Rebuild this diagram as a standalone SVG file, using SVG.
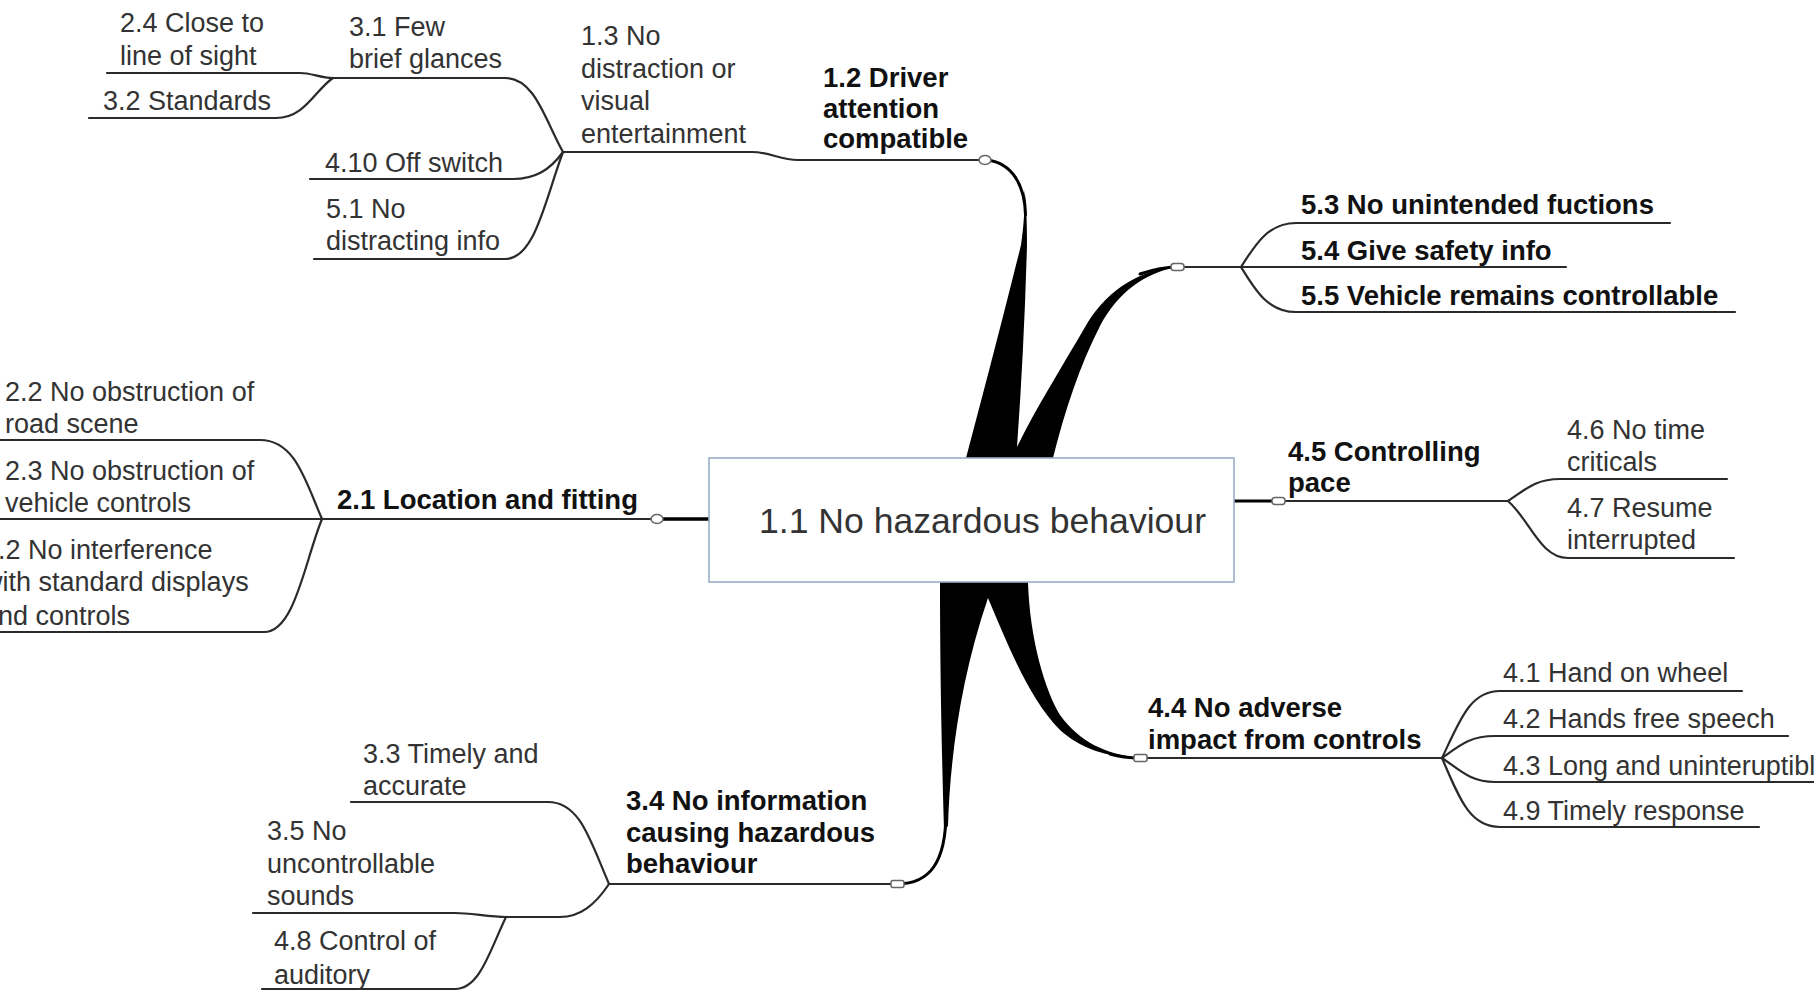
<svg xmlns="http://www.w3.org/2000/svg" width="1814" height="991" viewBox="0 0 1814 991">
<style>
text{font-family:"Liberation Sans",Arial,sans-serif;font-size:27px;fill:#333}
.b{font-weight:bold;fill:#111;font-size:27.5px}
.ln{fill:none;stroke:#2a2a2a;stroke-width:2.2;stroke-linecap:round}
.th{fill:none;stroke:#000;stroke-width:3;stroke-linecap:round}
.tap{fill:#000;stroke:none}
.nd{fill:#fff;stroke:#666;stroke-width:1.5}
</style>
<rect width="1814" height="991" fill="#fff"/>
<g id="connectors">
  <!-- thick tapered main branches -->
  <path class="tap" d="M962 470 L966 458 Q1000 330 1021 245 C1024 225 1025 205 1024.5 190 C1026.5 205 1027 225 1027 245 Q1024 350 1017 447 L1017 470 Z"/>
  <path class="th" d="M987 160 C1012 163 1025 185 1025.5 215"/>
  <path class="tap" d="M1017 470 L1017 447 C1035 410 1060 370 1088 322 C1110 288 1140 270 1177 267 C1145 273 1118 292 1100 326 C1080 365 1065 410 1053 458 L1053 470 Z"/>
  <path class="th" d="M1140 274 C1152 270 1165 267 1177 267"/>
  <path class="tap" d="M940 575 L940 582 C940 680 942 760 944 830 L948 826 C950 760 960 680 988 598 L988 575 Z"/>
  <path class="th" d="M946 812 C946 862 930 884 897 884"/>
  <path class="tap" d="M988 575 L988 598 C1010 650 1030 700 1060 730 C1080 748 1105 757 1140 758 C1105 754 1080 742 1060 715 C1045 690 1030 640 1028 583 L1028 575 Z"/>
  <path class="th" d="M1110 754 C1120 757 1130 758 1140 758"/>
  <path class="th" d="M657 519 L712 519" style="stroke-width:3.5"/>
  <path class="th" d="M1230 501 L1278 501"/>
  <!-- 1.2 subtree -->
  <path class="ln" d="M985 160 L798 160 C780 160 770 152 752 152 L563 152"/>
  <path class="ln" d="M563 152 C545 120 535 78 505 78 L333 78"/>
  <path class="ln" d="M563 152 C550 170 535 179 513 179 L310 179"/>
  <path class="ln" d="M563 152 C545 200 535 259 505 259 L314 259"/>
  <path class="ln" d="M333 78 C320 78 312 73 300 73 L107 73"/>
  <path class="ln" d="M333 78 C315 90 305 118 276 118 L89 118"/>
  <!-- 5.x subtree -->
  <path class="ln" d="M1177 267 L1241 267"/>
  <path class="ln" d="M1241 267 C1255 245 1268 223 1296 223 L1670 223"/>
  <path class="ln" d="M1241 267 L1566 267"/>
  <path class="ln" d="M1241 267 C1255 290 1268 312 1296 312 L1735 312"/>
  <!-- 4.5 subtree -->
  <path class="ln" d="M1278 501 L1508 501"/>
  <path class="ln" d="M1508 501 C1525 490 1535 479 1560 479 L1727 479"/>
  <path class="ln" d="M1508 501 C1530 520 1540 558 1568 558 L1734 558"/>
  <!-- 4.4 subtree -->
  <path class="ln" d="M1140 758 L1442 758"/>
  <path class="ln" d="M1442 758 C1460 720 1470 691 1500 691 L1742 691"/>
  <path class="ln" d="M1442 758 C1460 745 1470 736 1495 736 L1788 736"/>
  <path class="ln" d="M1442 758 C1460 770 1470 782 1495 782 L1814 782"/>
  <path class="ln" d="M1442 758 C1460 800 1470 827 1500 827 L1759 827"/>
  <!-- 3.4 subtree -->
  <path class="ln" d="M897 884 L609 884"/>
  <path class="ln" d="M609 884 C590 840 580 802 548 802 L351 802"/>
  <path class="ln" d="M609 884 C595 905 580 917 560 917 L506 917 C490 917 470 913 455 913 L253 913"/>
  <path class="ln" d="M506 917 C490 950 480 989 455 989 L262 989"/>
  <!-- 2.1 subtree -->
  <path class="ln" d="M657 519 L0 519"/>
  <path class="ln" d="M322 519 C305 480 295 440 260 440 L0 440"/>
  <path class="ln" d="M322 519 C305 560 295 632 264 632 L0 632"/>
</g>
<g id="n1_1">
  <rect x="709" y="458" width="525" height="124" fill="#fff" stroke="#9aaec6" stroke-width="1.6"/>
  <text x="759" y="533" style="font-size:35.6px">1.1 No hazardous behaviour</text>
</g>
<g id="n1_2">
  <ellipse class="nd" cx="985" cy="160" rx="6" ry="4.5"/>
  <text class="b" x="823" y="87">1.2 Driver</text>
  <text class="b" x="823" y="118">attention</text>
  <text class="b" x="823" y="148">compatible</text>
</g>
<g id="n1_3">
  <text x="581" y="45">1.3 No</text>
  <text x="581" y="78">distraction or</text>
  <text x="581" y="110">visual</text>
  <text x="581" y="143">entertainment</text>
</g>
<g id="n3_1"><text x="349" y="36">3.1 Few</text><text x="349" y="68">brief glances</text></g>
<g id="n2_4"><text x="120" y="32">2.4 Close to</text><text x="120" y="65">line of sight</text></g>
<g id="n3_2"><text x="103" y="110">3.2 Standards</text></g>
<g id="n4_10"><text x="325" y="172">4.10 Off switch</text></g>
<g id="n5_1"><text x="326" y="218">5.1 No</text><text x="326" y="250">distracting info</text></g>
<g id="n5_group">
  <rect class="nd" x="1171" y="263.5" width="13" height="7" rx="3"/>
</g>
<g id="n5_3"><text class="b" x="1301" y="214">5.3 No unintended fuctions</text></g>
<g id="n5_4"><text class="b" x="1301" y="260">5.4 Give safety info</text></g>
<g id="n5_5"><text class="b" x="1301" y="305">5.5 Vehicle remains controllable</text></g>
<g id="n4_5">
  <rect class="nd" x="1272" y="497.5" width="13" height="7" rx="3"/>
  <text class="b" x="1288" y="461">4.5 Controlling</text>
  <text class="b" x="1288" y="492">pace</text>
</g>
<g id="n4_6"><text x="1567" y="439">4.6 No time</text><text x="1567" y="471">criticals</text></g>
<g id="n4_7"><text x="1567" y="517">4.7 Resume</text><text x="1567" y="549">interrupted</text></g>
<g id="n4_4">
  <rect class="nd" x="1134" y="754.5" width="13" height="7" rx="2"/>
  <text class="b" x="1148" y="717">4.4 No adverse</text>
  <text class="b" x="1148" y="749">impact from controls</text>
</g>
<g id="n4_1"><text x="1503" y="682">4.1 Hand on wheel</text></g>
<g id="n4_2"><text x="1503" y="728">4.2 Hands free speech</text></g>
<g id="n4_3"><text x="1503" y="775">4.3 Long and uninteruptible</text></g>
<g id="n4_9"><text x="1503" y="820">4.9 Timely response</text></g>
<g id="n3_4">
  <rect class="nd" x="891" y="880.5" width="13" height="7" rx="2"/>
  <text class="b" x="626" y="810">3.4 No information</text>
  <text class="b" x="626" y="842">causing hazardous</text>
  <text class="b" x="626" y="873">behaviour</text>
</g>
<g id="n3_3"><text x="363" y="763">3.3 Timely and</text><text x="363" y="795">accurate</text></g>
<g id="n3_5"><text x="267" y="840">3.5 No</text><text x="267" y="873">uncontrollable</text><text x="267" y="905">sounds</text></g>
<g id="n4_8"><text x="274" y="950">4.8 Control of</text><text x="274" y="984">auditory</text></g>
<g id="n2_1">
  <ellipse class="nd" cx="657" cy="519" rx="6" ry="4.5"/>
  <text class="b" x="337" y="509">2.1 Location and fitting</text>
</g>
<g id="n2_2"><text x="5" y="401">2.2 No obstruction of</text><text x="5" y="433">road scene</text></g>
<g id="n2_3"><text x="5" y="480">2.3 No obstruction of</text><text x="5" y="512">vehicle controls</text></g>
<g id="n5_2"><text x="-17" y="559">5.2 No interference</text><text x="-17" y="591">with standard displays</text><text x="-17" y="625">and controls</text></g>
</svg>
